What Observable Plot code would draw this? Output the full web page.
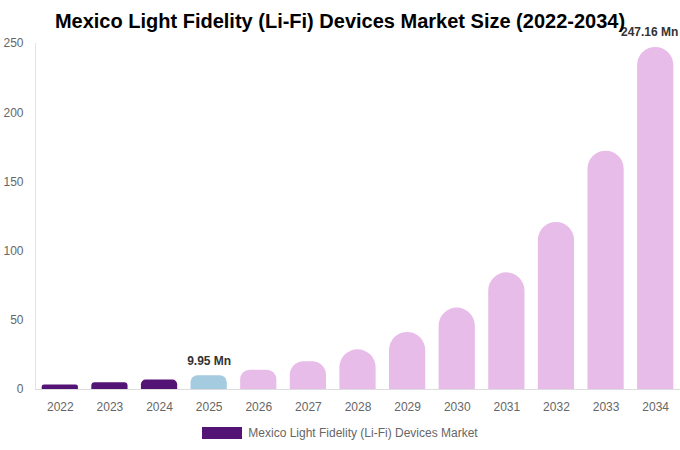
<!DOCTYPE html>
<html>
<head>
<meta charset="utf-8">
<script src="https://cdn.jsdelivr.net/npm/d3@7"></script>
<script src="https://cdn.jsdelivr.net/npm/@observablehq/plot@0.6"></script>
<style>
  body { margin: 0; background: #fff; font-family: "Liberation Sans", Arial, sans-serif; }
  #wrap { position: relative; width: 680px; overflow: hidden; }
  #title { position: absolute; top: 9px; left: 0; width: 680px; text-align: center; font-size: 20px; font-weight: bold; color: #000; line-height: 24px; z-index: 2; }
  #legend { display: flex; justify-content: center; align-items: center; gap: 6px; height: 30px; font-size: 12px; color: #666; }
  #legend .sw { width: 40px; height: 12px; background: #541475; }
</style>
</head>
<body>
<div id="wrap">
  <div id="title">Mexico Light Fidelity (Li-Fi) Devices Market Size (2022-2034)</div>
  <div id="chart"></div>
  <div id="legend"><span class="sw"></span><span>Mexico Light Fidelity (Li-Fi) Devices Market</span></div>
</div>
<script>
const years = ["2022","2023","2024","2025","2026","2027","2028","2029","2030","2031","2032","2033","2034"];
const values = [3.3, 4.9, 6.8, 9.95, 13.9, 20.0, 28.7, 41.2, 58.8, 84.3, 120.7, 172.2, 247.16];
const yTicks = [0, 50, 100, 150, 200, 250];
const seriesName = "Mexico Light Fidelity (Li-Fi) Devices Market";

const data = years.map((y, i) => ({year: y, value: values[i]}));
const colorOf = d => +d.year <= 2024 ? "#541475" : (+d.year === 2025 ? "#a5cbe0" : "#e7bce8");
const midLabel = data.filter(d => d.year === "2025");
const endLabel = data.filter(d => d.year === "2034");

const plot = Plot.plot({
  width: 680,
  height: 418,
  marginTop: 43,
  marginBottom: 29,
  marginLeft: 35,
  marginRight: 0,
  style: {fontFamily: "'Liberation Sans', Arial, sans-serif", fontSize: "12px", background: "transparent", overflow: "visible"},
  x: {domain: years, paddingInner: 0.27, paddingOuter: 0.135, round: false, label: null},
  y: {domain: [0, 250], label: null},
  marks: [
    Plot.frame({anchor: "left", stroke: "#e3e3e3"}),
    Plot.barY(data, {x: "year", y: "value", fill: colorOf}),
    Plot.ruleY([0], {stroke: "#dddddd"}),
    Plot.axisY({ticks: yTicks, tickSize: 0, tickPadding: 12, color: "#666", fontSize: 12, label: null}),
    Plot.axisX({tickSize: 0, tickPadding: 13, color: "#666", fontSize: 12, label: null}),
    Plot.text(midLabel, {
      x: "year", y: "value", text: d => d.value + " Mn", dy: -15,
      fontWeight: "bold", fill: "#333", fontSize: 12
    }),
    Plot.text(endLabel, {
      x: "year", y: "value", text: d => d.value + " Mn", dy: -15, dx: -6,
      fontWeight: "bold", fill: "#333", fontSize: 12
    })
  ]
});

// Round only the top corners of each bar (radius = min(half width, half height))
const barGroup = plot.querySelector('g[aria-label="bar"]');
if (barGroup) {
  barGroup.querySelectorAll("rect").forEach(r => {
    const x = +r.getAttribute("x"), y = +r.getAttribute("y");
    const w = +r.getAttribute("width"), h = +r.getAttribute("height");
    const rad = Math.min(w / 2, h / 2);
    const p = document.createElementNS("http://www.w3.org/2000/svg", "path");
    p.setAttribute("d",
      `M${x},${y + h}V${y + rad}A${rad},${rad} 0 0 1 ${x + rad},${y}` +
      `H${x + w - rad}A${rad},${rad} 0 0 1 ${x + w},${y + rad}V${y + h}Z`);
    p.setAttribute("fill", r.getAttribute("fill"));
    r.replaceWith(p);
  });
}
document.getElementById("chart").appendChild(plot);
</script>
</body>
</html>
